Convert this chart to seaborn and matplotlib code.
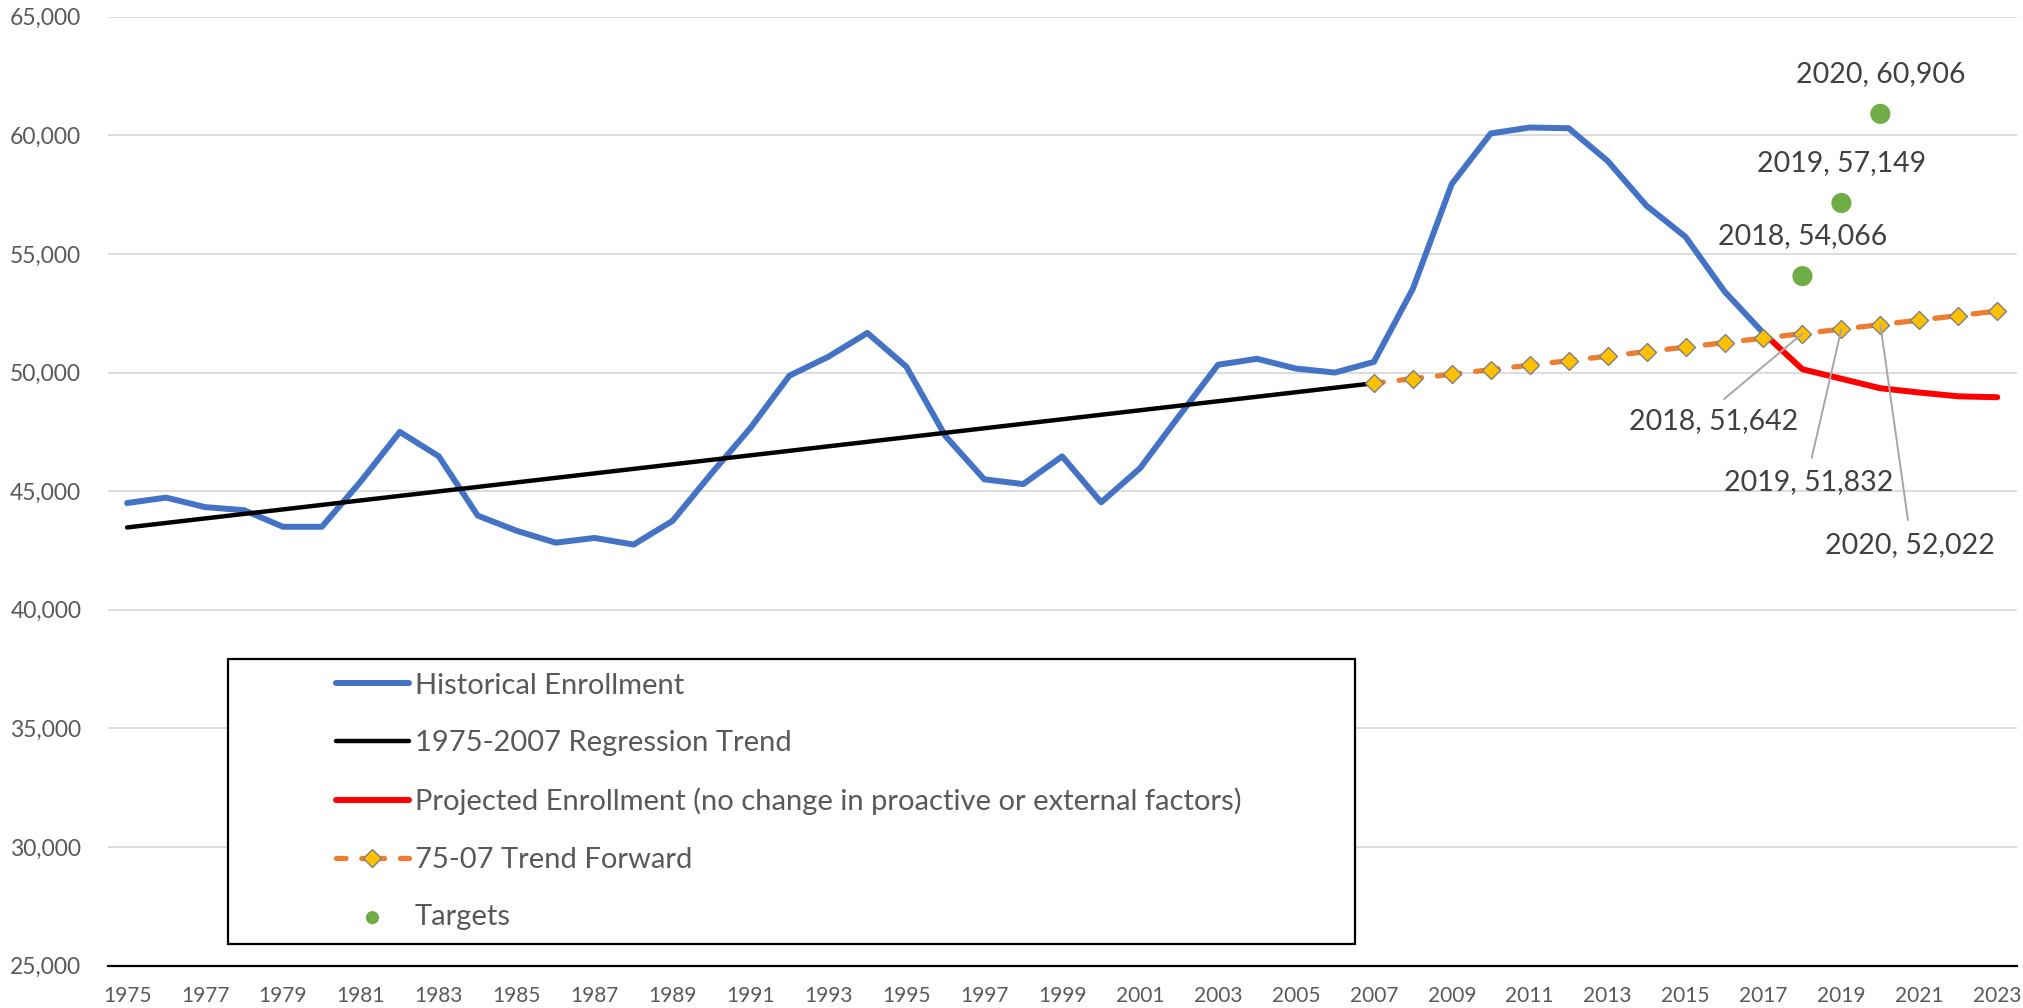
import matplotlib
matplotlib.use("Agg")
import matplotlib.pyplot as plt
import matplotlib.ticker as mticker
from matplotlib.patches import Rectangle
import pandas as pd
import seaborn as sns

# --- data ---
hist_years = list(range(1975, 2018))
hist_values = [
    44500, 44730, 44330, 44200, 43500, 43500, 45420, 47500, 46470, 43970,
    43330, 42830, 43030, 42750, 43750, 45750, 47670, 49870, 50670, 51670,
    50250, 47330, 45500, 45300, 46470, 44530, 45970, 48170, 50330, 50580,
    50170, 50000, 50450, 53530, 57950, 60080, 60330, 60300, 58920, 57030,
    55720, 53420, 51660,
]

reg_years = list(range(1975, 2008))
reg_values = [
    43472, 43662, 43852, 44042, 44232, 44422, 44612, 44802, 44992, 45182,
    45372, 45562, 45752, 45942, 46132, 46322, 46512, 46702, 46892, 47082,
    47272, 47462, 47652, 47842, 48032, 48222, 48412, 48602, 48792, 48982,
    49172, 49362, 49552,
]

proj_years = list(range(2017, 2024))
proj_values = [51660, 50140, 49740, 49340, 49160, 49000, 48960]

fwd_years = list(range(2007, 2024))
fwd_values = [
    49552, 49742, 49932, 50122, 50312, 50502, 50692, 50882, 51072, 51262,
    51452, 51642, 51832, 52022, 52212, 52402, 52592,
]

target_years = [2018, 2019, 2020]
target_values = [54066, 57149, 60906]

# labels for the trend-forward points and where their text sits
fwd_label_years = [2018, 2019, 2020]
fwd_label_text_pos = [(2015.72, 47970), (2018.17, 45380), (2020.75, 42750)]

legend_labels = [
    "Historical Enrollment",
    "1975-2007 Regression Trend",
    "Projected Enrollment (no change in proactive or external factors)",
    "75-07 Trend Forward",
    "Targets",
]

BLUE = "#4472C4"
RED = "#FF0000"
ORANGE = "#ED7D31"
GOLD = "#FFC000"
GREEN = "#70AD47"
TEXT_GRAY = "#595959"
LABEL_GRAY = "#404040"

sns.set_theme(style="white")
plt.rcParams["font.family"] = ["Lato", "DejaVu Sans"]

hist_df = pd.DataFrame({"year": hist_years, "value": hist_values})
reg_df = pd.DataFrame({"year": reg_years, "value": reg_values})
proj_df = pd.DataFrame({"year": proj_years, "value": proj_values})
fwd_df = pd.DataFrame({"year": fwd_years, "value": fwd_values})
target_df = pd.DataFrame({"year": target_years, "value": target_values})

fig = plt.figure(figsize=(20.23, 10.08), dpi=100)
ax = fig.add_axes([0.0532, 0.042, 0.9437, 0.9414])

sns.lineplot(data=hist_df, x="year", y="value", ax=ax, color=BLUE,
             linewidth=4.3, label=legend_labels[0], solid_joinstyle="round",
             solid_capstyle="round")
sns.lineplot(data=reg_df, x="year", y="value", ax=ax, color="black",
             linewidth=3.2, label=legend_labels[1], solid_capstyle="round")
sns.lineplot(data=proj_df, x="year", y="value", ax=ax, color=RED,
             linewidth=4.3, label=legend_labels[2], solid_joinstyle="round",
             solid_capstyle="round")
sns.lineplot(data=fwd_df, x="year", y="value", ax=ax, color=ORANGE,
             linewidth=3.8, linestyle=(2.5, (4.3, 3.0)), marker="D",
             markersize=9, markerfacecolor=GOLD, markeredgecolor="#7F7F7F",
             markeredgewidth=1.0, label=legend_labels[3],
             dash_capstyle="round")
sns.scatterplot(data=target_df, x="year", y="value", ax=ax, color=GREEN,
                s=210, edgecolor="none", label=legend_labels[4], zorder=5)

# target data labels, centred above each point
for yr, val in zip(target_years, target_values):
    ax.annotate(f"{yr}, {val:,}", xy=(yr, val), xytext=(0, 29),
                textcoords="offset points", ha="center", va="center",
                fontsize=20.5, color=LABEL_GRAY)

# trend-forward data labels with leader lines
for yr, pos in zip(fwd_label_years, fwd_label_text_pos):
    val = fwd_values[fwd_years.index(yr)]
    ax.annotate(f"{yr}, {val:,}", xy=(yr, val), xytext=pos,
                textcoords="data", ha="center", va="center",
                fontsize=20.5, color=LABEL_GRAY,
                arrowprops=dict(arrowstyle="-", color="#A6A6A6", lw=1.4,
                                relpos=(0.5, 1.0), shrinkA=6, shrinkB=0))

ax.set_xlim(1974.5, 2023.5)
ax.set_ylim(25000, 65000)
ax.set_xticks(list(range(1975, 2024, 2)))
ax.set_yticks(list(range(25000, 65001, 5000)))
ax.yaxis.set_major_formatter(mticker.StrMethodFormatter("{x:,.0f}"))
ax.tick_params(axis="x", length=0, pad=15, labelsize=15, labelcolor=TEXT_GRAY)
ax.tick_params(axis="y", length=0, pad=19, labelsize=16.5, labelcolor=TEXT_GRAY)
ax.set_xlabel("")
ax.set_ylabel("")

ax.yaxis.grid(True, color="#D9D9D9", linewidth=1.3)
ax.xaxis.grid(False)
ax.set_axisbelow(True)
for side in ("top", "right", "left"):
    ax.spines[side].set_visible(False)
ax.spines["bottom"].set_color("black")
ax.spines["bottom"].set_linewidth(1.6)
ax.spines["bottom"].set_zorder(6)

# legend: white framed box with the entries placed inside it
ax.add_patch(Rectangle((0.0629, 0.0225), 0.5905, 0.3007, transform=ax.transAxes,
                       facecolor="white", edgecolor="black", linewidth=1.6,
                       zorder=4))
handles, labels = ax.get_legend_handles_labels()
leg = ax.legend(handles, labels, loc="center left",
                bbox_to_anchor=(0.1196, 0.173), frameon=False,
                fontsize=21, labelcolor=TEXT_GRAY, handlelength=2.5,
                handletextpad=0.2, labelspacing=1.08, borderpad=0,
                borderaxespad=0, numpoints=1, scatterpoints=1)
leg.set_zorder(7)
leg.legend_handles[4].set_sizes([90])

fig.savefig("out.png", dpi=100)
plt.close(fig)
